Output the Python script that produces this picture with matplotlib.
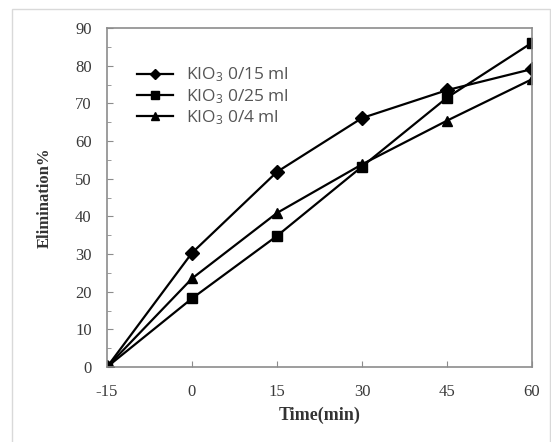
import matplotlib
matplotlib.use("Agg")
import matplotlib.pyplot as plt
from matplotlib.patches import Rectangle
from matplotlib.ticker import MultipleLocator

time_labels = ["-15", "0", "15", "30", "45", "60"]
kio3_015 = [0, 30.3, 51.8, 66.1, 73.5, 79.1]
kio3_025 = [0, 18.2, 34.8, 53.2, 71.5, 86.1]
kio3_04 = [0, 23.5, 40.9, 53.8, 65.4, 76.4]
series_names = ["KIO$_3$ 0/15 ml", "KIO$_3$ 0/25 ml", "KIO$_3$ 0/4 ml"]

plt.rcParams['mathtext.default'] = 'regular'

fig = plt.figure(figsize=(5.51, 4.42), dpi=100)
fig.patches.append(Rectangle((12/551, -0.01), (550-12)/551, 1-9/442+0.01,
                             transform=fig.transFigure, fill=False,
                             edgecolor="#d9d9d9", linewidth=1.0))
ax = fig.add_axes([107/551, 1-367/442, (532-107)/551, (367-28)/442])

x = list(range(len(time_labels)))
ax.plot(x, kio3_015, color="black", lw=1.6, marker="D", ms=7, label=series_names[0])
ax.plot(x, kio3_025, color="black", lw=1.6, marker="s", ms=7.5, label=series_names[1])
ax.plot(x, kio3_04, color="black", lw=1.6, marker="^", ms=7.5, label=series_names[2])

ax.set_xlim(0, len(time_labels) - 1)
ax.set_ylim(0, 90)
ax.set_xticks(x)
ax.set_xticklabels(time_labels)
ax.yaxis.set_major_locator(MultipleLocator(10))
ax.yaxis.set_minor_locator(MultipleLocator(5))

for s in ax.spines.values():
    s.set_color("#8c8c8c")
    s.set_linewidth(1.2)

ax.tick_params(axis="both", which="major", direction="in", length=4, color="#8c8c8c",
               labelsize=12, labelcolor="#3a3a3a")
ax.tick_params(axis="x", pad=12)
ax.tick_params(axis="y", pad=11)
ax.tick_params(axis="y", which="minor", direction="in", length=3, color="#8c8c8c")
for lab in ax.get_xticklabels() + ax.get_yticklabels():
    lab.set_family("Liberation Serif")

ax.set_xlabel("Time(min)", family="Liberation Serif", fontsize=13, fontweight="bold",
              color="#333333", labelpad=5)
ax.set_ylabel("Elimination%", family="Liberation Serif", fontsize=12, fontweight="bold",
              color="#333333", labelpad=16)

leg = ax.legend(loc="upper left", bbox_to_anchor=(0.033, 0.935), frameon=False,
                prop={"family": "Open Sans", "size": 12.5}, handlelength=2.1,
                labelspacing=0.15, handletextpad=0.75, markerscale=0.75)
for t in leg.get_texts():
    t.set_color("#555555")

fig.savefig("out.png", dpi=100)
